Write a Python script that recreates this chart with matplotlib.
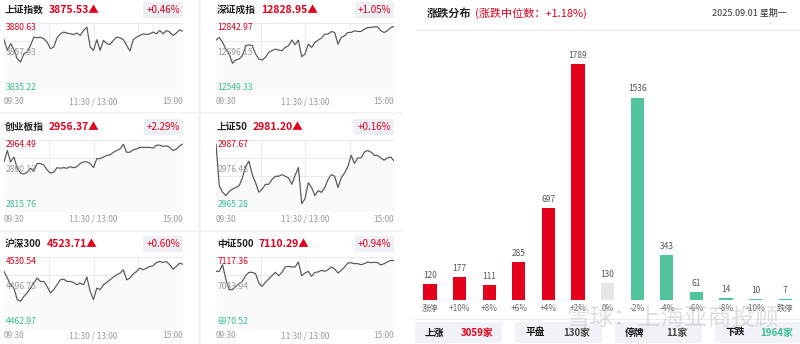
import numpy as np
import matplotlib
matplotlib.use('Agg')
import matplotlib.pyplot as plt
from matplotlib.patches import Rectangle

plt.rcParams['font.family'] = ['Noto Sans CJK SC', 'DejaVu Sans']

RED = '#e2001a'
GREEN = '#3dbf93'
BAR_GREEN = '#52c39f'

# index panels
names = ['上证指数', '深证成指', '创业板指', '上证50', '沪深300', '中证500']
closes = [3875.53, 12828.95, 2956.37, 2981.20, 4523.71, 7110.29]
pcts = ['+0.46%', '+1.05%', '+2.29%', '+0.16%', '+0.60%', '+0.94%']
tops = [3880.63, 12842.97, 2964.49, 2987.67, 4530.54, 7117.36]
mids = [3857.93, 12696.15, 2890.13, 2976.48, 4496.75, 7043.94]
bottoms = [3835.22, 12549.33, 2815.76, 2965.28, 4462.97, 6970.52]
times = ['09:30', '11:30 / 13:00', '15:00']

sh = [3870.1, 3863.4, 3867.6, 3863.8, 3858.1, 3856.0, 3861.3, 3862.3, 3866.5, 3871.7,
      3871.3, 3871.7, 3870.7, 3868.6, 3864.4, 3865.5, 3871.3, 3873.8, 3874.9, 3874.3,
      3873.8, 3873.4, 3874.3, 3872.8, 3875.9, 3878.0, 3865.5, 3863.4, 3870.1, 3863.4,
      3869.7, 3867.6, 3867.1, 3869.7, 3871.7, 3871.3, 3870.1, 3866.5, 3863.0, 3870.1,
      3871.7, 3872.8, 3873.8, 3873.4, 3873.8, 3874.9, 3873.8, 3875.9, 3873.8, 3875.9,
      3874.9, 3872.8, 3874.3, 3876.3, 3875.5]
sz = [12773.3, 12784.1, 12763.8, 12736.7, 12716.4, 12678.6, 12692.1, 12696.2, 12709.7, 12750.3,
      12754.3, 12750.3, 12716.4, 12696.2, 12692.1, 12702.9, 12723.2, 12730.0, 12736.7, 12732.7,
      12730.0, 12743.5, 12750.3, 12773.3, 12754.3, 12773.3, 12705.6, 12716.4, 12757.0, 12743.5,
      12763.8, 12773.3, 12781.4, 12797.6, 12797.6, 12808.4, 12804.4, 12757.0, 12784.1, 12790.9,
      12804.4, 12804.4, 12811.2, 12808.4, 12808.4, 12817.9, 12824.7, 12824.7, 12827.4, 12827.4,
      12811.2, 12804.4, 12811.2, 12824.7, 12829.0]
cyb = [2919.3, 2942.6, 2919.3, 2929.3, 2906.1, 2896.1, 2894.1, 2898.1, 2906.1, 2900.7,
       2916.0, 2916.0, 2912.7, 2902.7, 2896.1, 2898.1, 2907.4, 2906.1, 2907.4, 2906.1,
       2909.4, 2907.4, 2909.4, 2916.0, 2919.3, 2919.3, 2916.0, 2907.4, 2926.0, 2926.0,
       2929.3, 2932.6, 2933.9, 2939.2, 2942.6, 2945.9, 2955.8, 2939.2, 2939.2, 2944.5,
       2945.9, 2949.2, 2949.2, 2949.2, 2949.2, 2947.9, 2953.8, 2953.8, 2951.2, 2952.5,
       2949.2, 2942.6, 2945.9, 2952.5, 2956.4]
sz50 = [2986.4, 2973.4, 2971.4, 2970.4, 2971.7, 2972.4, 2972.9, 2973.4, 2975.9, 2979.4,
        2981.1, 2976.9, 2974.4, 2971.4, 2972.4, 2973.9, 2973.9, 2975.4, 2976.4, 2976.4,
        2976.9, 2976.4, 2975.9, 2973.9, 2976.7, 2979.1, 2967.9, 2969.4, 2974.4, 2972.9,
        2970.4, 2971.9, 2971.4, 2972.9, 2975.4, 2976.9, 2976.4, 2972.9, 2975.9, 2977.4,
        2979.4, 2982.9, 2980.4, 2982.1, 2982.1, 2983.9, 2984.4, 2983.9, 2982.9, 2982.9,
        2982.1, 2981.4, 2982.1, 2982.4, 2981.2]
hs300 = [4517.0, 4510.8, 4504.5, 4501.4, 4490.5, 4489.0, 4493.6, 4496.8, 4501.4, 4506.1,
         4510.8, 4507.6, 4507.6, 4503.0, 4496.8, 4499.9, 4504.5, 4509.2, 4509.8, 4507.6,
         4507.6, 4506.7, 4504.5, 4506.1, 4504.5, 4511.7, 4498.3, 4490.5, 4501.4, 4499.9,
         4504.5, 4506.7, 4509.2, 4511.7, 4513.9, 4515.4, 4518.5, 4509.2, 4510.8, 4514.8,
         4517.0, 4520.1, 4518.5, 4520.1, 4521.7, 4522.3, 4525.4, 4526.3, 4525.4, 4526.3,
         4523.2, 4519.2, 4521.7, 4524.8, 4523.7]
zz500 = [7088.1, 7088.1, 7101.7, 7071.1, 7050.7, 7050.7, 7057.5, 7063.0, 7067.7, 7079.3,
         7086.1, 7086.1, 7083.4, 7064.3, 7057.5, 7065.7, 7072.5, 7079.3, 7086.1, 7079.3,
         7086.1, 7097.0, 7098.3, 7097.0, 7097.0, 7107.2, 7079.3, 7084.7, 7088.1, 7077.9,
         7086.1, 7086.8, 7090.2, 7088.1, 7091.5, 7097.0, 7092.9, 7084.7, 7090.2, 7097.0,
         7105.1, 7105.8, 7103.8, 7103.8, 7101.7, 7103.8, 7107.2, 7105.8, 7106.5, 7105.8,
         7101.0, 7103.8, 7107.2, 7110.5, 7110.3]
series = [sh, sz, cyb, sz50, hs300, zz500]

# distribution
cats = ['涨停', '+10%', '+8%', '+6%', '+4%', '+2%', '0%', '-2%', '-4%', '-6%', '-8%', '-10%', '跌停']
counts = [120, 177, 111, 285, 697, 1789, 130, 1536, 343, 61, 14, 10, 7]
sum_labels = ['上涨', '平盘', '停牌', '下跌']
sum_values = ['3059家', '130家', '11家', '1964家']

W, H = 800, 344
fig = plt.figure(figsize=(8, 3.44), dpi=100)
bg = fig.add_axes([0, 0, 1, 1])
bg.set_xlim(0, W)
bg.set_ylim(H, 0)
bg.axis('off')
r = fig.canvas.get_renderer()


def px_axes(l, t, w, h):
    return fig.add_axes([l / W, 1 - (t + h) / H, w / W, h / H])


# card separators on the left side
for yy in [113, 231]:
    bg.plot([0, 402], [yy, yy], color='#f2f2f2', lw=1.2)
bg.add_patch(Rectangle((197.5, 0), 3, H, fc='#f4f4f4', ec='none'))

col_left = [4, 216]
col_right = [183, 394]
row_top = [23, 140, 257]
title_y = [10, 127, 244]
ch = 72

for i, y in enumerate(series):
    row, col = divmod(i, 2)
    l, rr, t = col_left[col], col_right[col], row_top[row]
    ax = px_axes(l, t, rr - l, ch)
    x = np.linspace(0, 1, len(y))
    ax.set_xlim(0, 1)
    ax.set_ylim(bottoms[i], tops[i])
    for v in np.linspace(bottoms[i], tops[i], 5):
        ax.axhline(v, color='#e9e9e9', lw=0.7, zorder=0)
    for f in [0.25, 0.5, 0.75]:
        ax.axvline(f, color='#e9e9e9', lw=0.7, zorder=0)
    ax.fill_between(x, y, bottoms[i], color='#fafafa', lw=0, zorder=1)
    ax.plot(x, y, color='#555555', lw=0.85, zorder=2)
    ax.axis('off')
    ax.text(0.01, tops[i], f'{tops[i]:.2f}', va='top', ha='left', color=RED, fontsize=6.2, zorder=3)
    ax.text(0.01, mids[i] + (tops[i] - bottoms[i]) * 0.03, f'{mids[i]:.2f}', va='bottom', ha='left',
            color='#999999', fontsize=6.2, zorder=3)
    ax.text(0.01, bottoms[i] + (tops[i] - bottoms[i]) * 0.04, f'{bottoms[i]:.2f}', va='bottom', ha='left',
            color=GREEN, fontsize=6.2, zorder=3)

    ty = t + ch + 7
    bg.text(l, ty, times[0], ha='left', va='center', color='#9a9a9a', fontsize=6)
    bg.text((l + rr) / 2, ty, times[1], ha='center', va='center', color='#9a9a9a', fontsize=6)
    bg.text(rr, ty, times[2], ha='right', va='center', color='#9a9a9a', fontsize=6)

    nt = bg.text(l + 1, title_y[row], names[i], ha='left', va='center', color='#222222',
                 fontsize=7, weight='bold')
    x1 = nt.get_window_extent(renderer=r).x1
    bg.text(x1 + 5, title_y[row], f'{closes[i]:.2f}▲', ha='left', va='center', color=RED,
            fontsize=7.5, weight='bold')
    bg.text(rr - 3, title_y[row], pcts[i], ha='right', va='center', color=RED, fontsize=7,
            bbox=dict(boxstyle='square,pad=0.3', fc='#eef0f5', ec='none'))

# right panel header
ht = bg.text(427, 13, '涨跌分布', ha='left', va='center', color='#222222', fontsize=8, weight='bold')
hx = ht.get_window_extent(renderer=r).x1
bg.text(hx + 3, 13, '(涨跌中位数：+1.18%)', ha='left', va='center', color=RED, fontsize=8)
bg.text(787, 13, '2025.09.01 星期一', ha='right', va='center', color='#333333', fontsize=6.5)
bg.plot([416, 800], [29.5, 29.5], color='#e6e6e6', lw=0.8)
bg.plot([415, 800], [319, 319], color='#ececec', lw=0.8)

# distribution bars
bax = px_axes(415.2, 40, 384.8, 260)
colors = [RED] * 6 + ['#e6e6e6'] + [BAR_GREEN] * 6
bars = bax.bar(range(len(counts)), counts, width=0.45, color=colors)
bax.bar_label(bars, padding=3, fontsize=6, color='#555555')
bax.set_xlim(-0.5, len(counts) - 0.5)
bax.set_ylim(0, 1973)
bax.set_xticks(range(len(cats)))
bax.set_xticklabels(cats, fontsize=6, color='#666666')
bax.tick_params(axis='x', length=0, pad=3)
bax.set_yticks([])
for s in bax.spines.values():
    s.set_visible(False)
bax.patch.set_alpha(0)

# summary boxes
val_colors = [RED, '#444444', '#444444', GREEN]
for k in range(4):
    x0 = 415 + 100 * k
    bg.add_patch(Rectangle((x0, 322), 87, 21, fc='#f0f2f7', ec='none'))
    bg.text(x0 + 10, 332.5, sum_labels[k], ha='left', va='center', color='#111111',
            fontsize=7, weight='bold')
    bg.text(x0 + 62, 332.5, sum_values[k], ha='center', va='center', color=val_colors[k],
            fontsize=7, weight='bold')

# watermark
fig.text(673 / W, 1 - 318 / H, '雪球：上海亚商投顾', ha='center', va='center', fontsize=17,
         color='#c0c0c0', alpha=0.5, zorder=10)

fig.savefig('out.png', dpi=100)
